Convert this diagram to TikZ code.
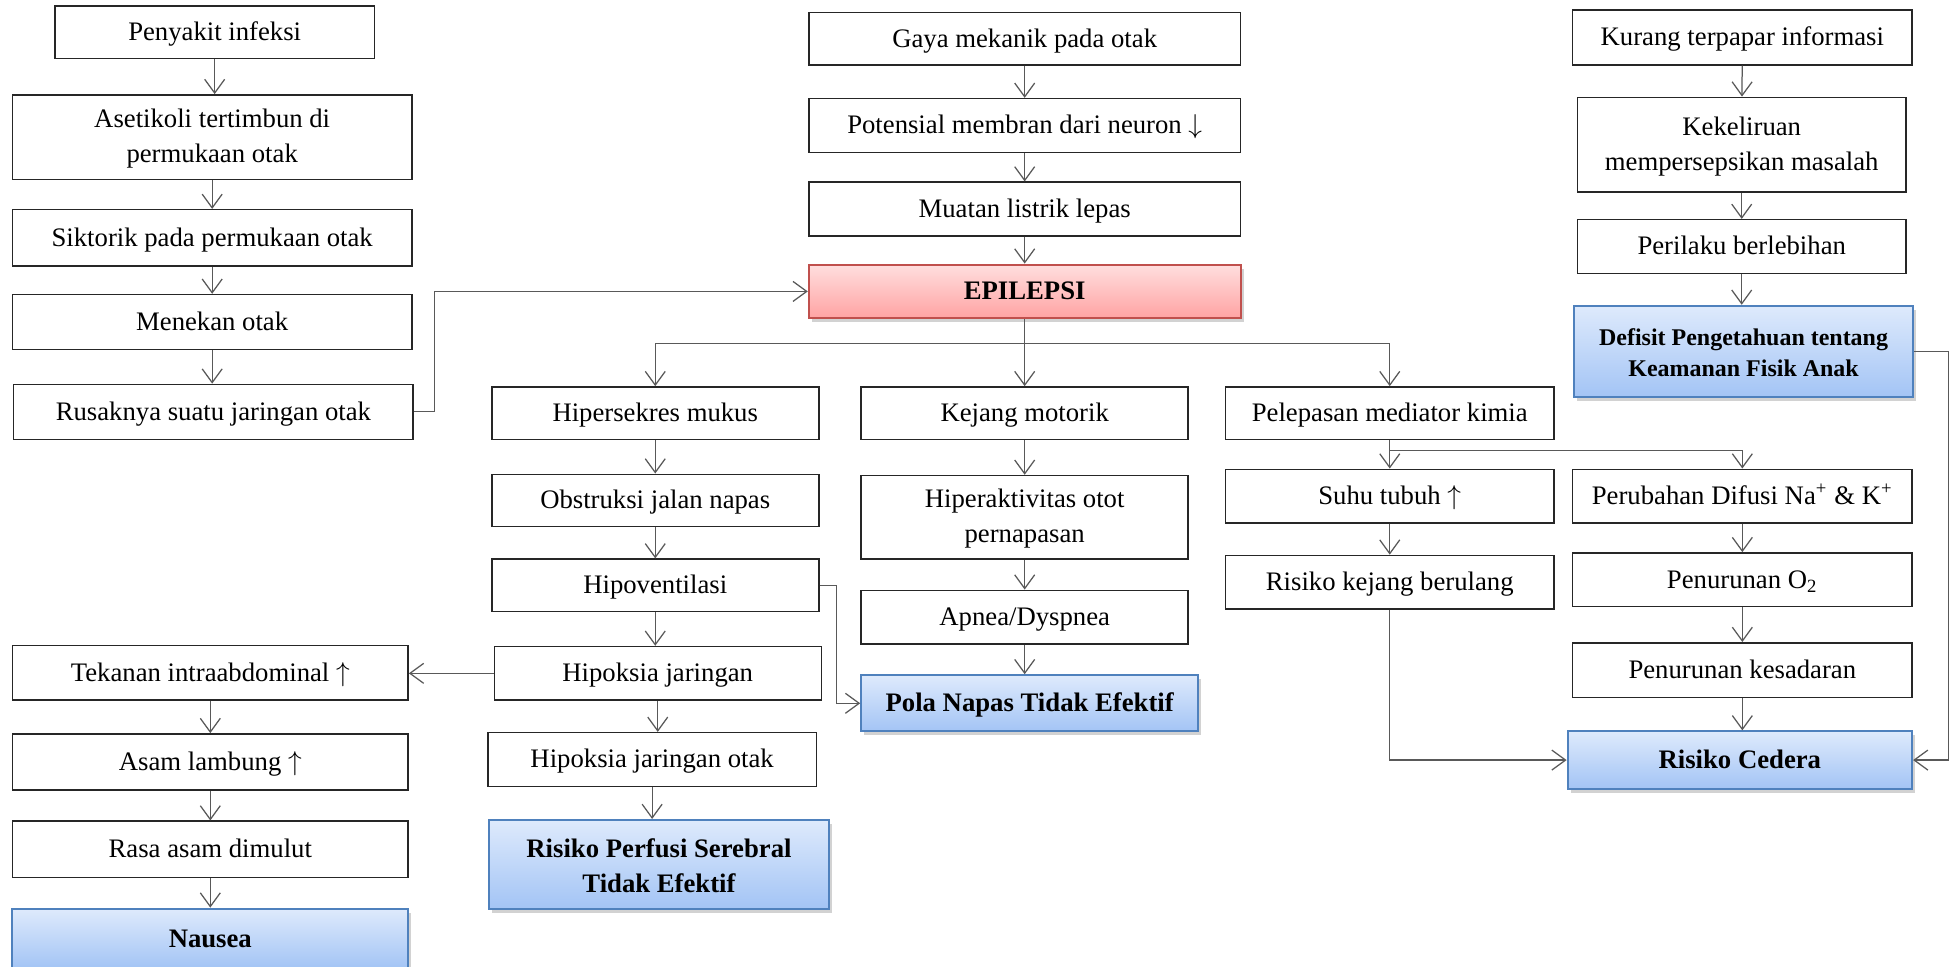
\documentclass[tikz,border=0pt]{standalone}
\usepackage{fontspec}
\setmainfont{Liberation Serif}
\usetikzlibrary{arrows.meta,shadows}
\definecolor{redborder}{RGB}{192,80,77}
\definecolor{redtop}{RGB}{255,222,222}
\definecolor{redbot}{RGB}{255,163,163}
\definecolor{blueborder}{RGB}{79,129,189}
\definecolor{bluetop}{RGB}{222,234,252}
\definecolor{bluebot}{RGB}{163,196,245}
\newcommand{\UpA}{$\uparrow$}
\newcommand{\DnA}{$\downarrow$}
\begin{document}
\begin{tikzpicture}[x=0.5pt,y=-0.5pt,
  font=\fontsize{10.7pt}{14pt}\selectfont,
  wh/.style 2 args={minimum width=#1pt,minimum height=#2pt},
  mbox/.style={draw=black!85,line width=0.6pt,fill=white,inner sep=0pt,align=center},
  one/.style={text height=0.9em,text depth=0.22em},
  box/.style={mbox,one},
  redbox/.style={mbox,one,draw=redborder,line width=0.8pt,top color=redtop,bottom color=redbot,
    drop shadow={shadow xshift=1.2pt,shadow yshift=-1.6pt,opacity=0.35},font=\bfseries\fontsize{10.7pt}{14pt}\selectfont},
  bluebox/.style={mbox,draw=blueborder,line width=0.8pt,top color=bluetop,bottom color=bluebot,
    drop shadow={shadow xshift=1.2pt,shadow yshift=-1.6pt,opacity=0.35},font=\bfseries\fontsize{10.7pt}{14pt}\selectfont},
  arr/.style={draw=black!65,line width=0.5pt,-{Straight Barb[length=5.5pt,width=8pt]}}
]
\fill[white] (0,0) rectangle (1568,774);
\useasboundingbox (0,0) rectangle (1568,774);

% left column
\node[box,wh={128}{21}] (inf) at (172,26) {Penyakit infeksi};
\node[mbox,wh={160}{34}] (ase) at (170,110) {\rule{0pt}{0.8em}Asetikoli tertimbun di\\permukaan otak};
\node[box,wh={160}{22.5}] (sik) at (170,190.5) {Siktorik pada permukaan otak};
\node[box,wh={160}{22}] (men) at (170,258) {Menekan otak};
\node[box,wh={160}{22}] (rus) at (171,330) {Rusaknya suatu jaringan otak};

% center top
\node[box,wh={173}{21}] (gay) at (821,31) {Gaya mekanik pada otak};
\node[box,wh={173}{21.5}] (pot) at (821,100.5) {Potensial membran dari neuron \DnA};
\node[box,wh={173}{21.5}] (mua) at (821,167.5) {Muatan listrik lepas};
\node[redbox,wh={173}{21.5}] (epi) at (821,233.5) {EPILEPSI};

% column 1
\node[box,wh={131}{21}] (hip) at (525,331) {Hipersekres mukus};
\node[box,wh={131}{21}] (obs) at (525,401) {Obstruksi jalan napas};
\node[box,wh={131}{21}] (hv) at (525,469) {Hipoventilasi};
\node[box,wh={131}{21.5}] (hj) at (527,539.5) {Hipoksia jaringan};
\node[box,wh={131.5}{21.5}] (hjo) at (522.5,608.5) {Hipoksia jaringan otak};
\node[bluebox,wh={136}{35.5}] (rps) at (528,692.5) {\rule{0pt}{0.8em}Risiko Perfusi Serebral\\Tidak Efektif};

% left bottom
\node[box,wh={158.5}{22}] (tek) at (168.5,539) {Tekanan intraabdominal \UpA};
\node[box,wh={158.5}{22.5}] (asm) at (168.5,610.5) {Asam lambung \UpA};
\node[box,wh={158.5}{22.5}] (ras) at (168.5,680.5) {Rasa asam dimulut};
\node[bluebox,one,wh={158.5}{24}] (nau) at (168.5,752) {Nausea};

% column 2
\node[box,wh={131}{21}] (kej) at (821,331) {Kejang motorik};
\node[mbox,wh={131}{33.5}] (hot) at (821,414.5) {\rule{0pt}{0.8em}Hiperaktivitas otot\\pernapasan};
\node[box,wh={131}{21.5}] (apn) at (821,494.5) {Apnea/Dyspnea};
\node[bluebox,one,wh={135}{22.5}] (pn) at (825,563.5) {Pola Napas Tidak Efektif};

% column 3
\node[box,wh={131.5}{21}] (pel) at (1113.5,331) {Pelepasan mediator kimia};
\node[box,wh={131.5}{21.5}] (suh) at (1113.5,397.5) {Suhu tubuh \UpA};
\node[box,wh={131.5}{21.5}] (rkb) at (1113.5,466.5) {Risiko kejang berulang};

% column 4
\node[box,wh={136}{21.5}] (per) at (1396,397.5) {Perubahan Difusi Na\textsuperscript{+} \& K\textsuperscript{+}};
\node[box,wh={136}{21.5}] (o2) at (1396,464.5) {Penurunan O\textsubscript{2}};
\node[box,wh={136}{22}] (kes) at (1396,537) {Penurunan kesadaran};
\node[bluebox,one,wh={138}{23}] (rc) at (1394,609) {Risiko Cedera};

% top right
\node[box,wh={136}{22}] (kur) at (1396,30) {Kurang terpapar informasi};
\node[mbox,wh={131.5}{38}] (kek) at (1395.5,116) {\rule{0pt}{0.8em}Kekeliruan\\mempersepsikan masalah};
\node[box,wh={131.5}{21.5}] (prl) at (1395.5,197.5) {Perilaku berlebihan};
\node[bluebox,wh={136}{36.5},font=\bfseries\fontsize{9.6pt}{12.5pt}\selectfont] (def) at (1397,281.5) {\rule{0pt}{0.8em}Defisit Pengetahuan tentang\\Keamanan Fisik Anak};

% connectors: left column
\draw[arr] (inf.south) -- (inf.south |- ase.north);
\draw[arr] (ase.south) -- (ase.south |- sik.north);
\draw[arr] (sik.south) -- (sik.south |- men.north);
\draw[arr] (men.south) -- (men.south |- rus.north);
\coordinate (rr) at (348,330);
\draw[arr] (rus.east) -- (rr) |- (epi.west);

% center top
\draw[arr] (gay) -- (pot);
\draw[arr] (pot) -- (mua);
\draw[arr] (mua) -- (epi);
\coordinate (br) at (821,275);
\draw[arr] (epi.south) -- (kej.north);
\draw[arr] (br) -| (hip.north);
\draw[arr] (br) -| (pel.north);

% column 1
\draw[arr] (hip) -- (obs);
\draw[arr] (obs) -- (hv);
\draw[arr] (hv.south) -- (hv.south |- hj.north);
\draw[arr] (hj.south) -- (hj.south |- hjo.north);
\draw[arr] (hjo.south) -- (hjo.south |- rps.north);
\coordinate (hvr) at (670,469);
\draw[arr] (hv.east) -- (hvr) |- (pn.west);
\draw[arr] (hj.west) -- (hj.west -| tek.east);

% left bottom
\draw[arr] (tek) -- (asm);
\draw[arr] (asm) -- (ras);
\draw[arr] (ras) -- (nau);

% column 2
\draw[arr] (kej) -- (hot);
\draw[arr] (hot) -- (apn);
\draw[arr] (apn.south) -- (apn.south |- pn.north);

% column 3
\coordinate (br2) at (1113.5,361);
\draw[arr] (pel) -- (suh);
\draw[arr] (br2) -| (per.north);
\draw[arr] (suh) -- (rkb);
\draw[arr] (rkb.south) |- (rc.west);

% column 4
\draw[arr] (per) -- (o2);
\draw[arr] (o2) -- (kes);
\draw[arr] (kes.south) -- (kes.south |- rc.north);

% top right
\draw[arr] (kur) -- (kek);
\draw[arr] (kek.south) -- (kek.south |- prl.north);
\draw[arr] (prl.south) -- (prl.south |- def.north);
\coordinate (dr) at (1561,281.5);
\draw[arr] (def.east) -- (dr) |- (rc.east);
\end{tikzpicture}
\end{document}
